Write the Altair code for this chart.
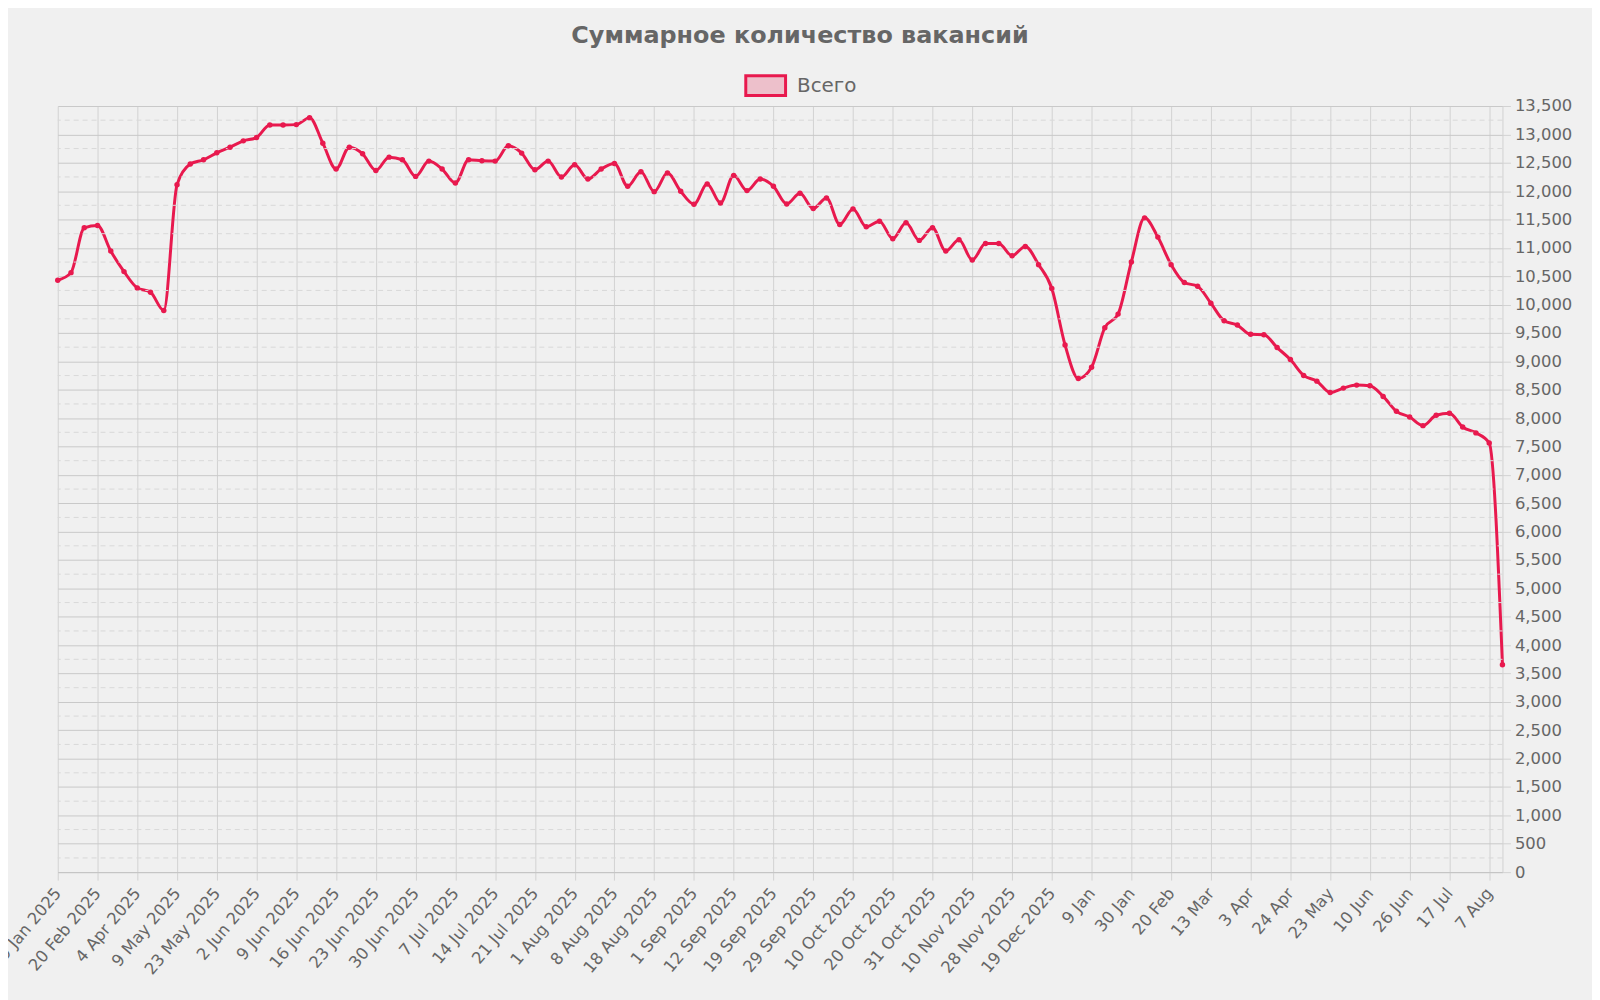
import json
import altair as alt
import pandas as pd

title_text = "Суммарное количество вакансий"
series_name = "Всего"

tick_labels = [
    "9 Jan 2025", "20 Feb 2025", "4 Apr 2025", "9 May 2025", "23 May 2025",
    "2 Jun 2025", "9 Jun 2025", "16 Jun 2025", "23 Jun 2025", "30 Jun 2025",
    "7 Jul 2025", "14 Jul 2025", "21 Jul 2025", "1 Aug 2025", "8 Aug 2025",
    "18 Aug 2025", "1 Sep 2025", "12 Sep 2025", "19 Sep 2025", "29 Sep 2025",
    "10 Oct 2025", "20 Oct 2025", "31 Oct 2025", "10 Nov 2025", "28 Nov 2025",
    "19 Dec 2025", "9 Jan", "30 Jan", "20 Feb", "13 Mar", "3 Apr", "24 Apr",
    "23 May", "10 Jun", "26 Jun", "17 Jul", "7 Aug",
]

values = [
    10430, 10564, 11354, 11395, 10944, 10582, 10295, 10219, 9898, 12114,
    12477, 12553, 12675, 12775, 12886, 12944, 13167, 13167, 13172, 13295,
    12845, 12389, 12775, 12658, 12365, 12599, 12553, 12260, 12529, 12389,
    12143, 12553, 12535, 12529, 12798, 12670, 12377, 12529, 12249, 12465,
    12213, 12389, 12488, 12085, 12342, 11991, 12319, 11997, 11769, 12126,
    11792, 12278, 12009, 12213, 12085, 11775, 11962, 11693, 11880, 11412,
    11687, 11371, 11471, 11161, 11442, 11132, 11354, 10944, 11143, 10787,
    11079, 11079, 10862, 11026, 10705, 10284, 9289, 8699, 8898, 9594,
    9833, 10751, 11529, 11190, 10705, 10389, 10325, 10026, 9716, 9640,
    9477, 9471, 9243, 9032, 8752, 8652, 8453, 8529, 8582, 8570,
    8383, 8120, 8020, 7868, 8050, 8085, 7845, 7740, 7564, 3655,
]

y_major = list(range(0, 13501, 500))
y_minor = list(range(250, 13500, 500))

LINE = "#e8194e"
TEXT = "#666666"

df = pd.DataFrame({"i": list(range(len(values))), "v": values, "s": series_name})
minor_df = pd.DataFrame({"v": y_minor})

n = len(values)
xscale = alt.Scale(domain=[0, n - 1], nice=False, zero=False)
yscale = alt.Scale(domain=[0, 13500], nice=False, zero=True)

label_expr = json.dumps(tick_labels, ensure_ascii=False) + "[round(datum.value / 3)]"

x_axis = alt.Axis(
    values=list(range(0, n, 3)),
    labelExpr=label_expr,
    labelAngle=-50,
    labelAlign="right",
    labelBaseline="middle",
    labelPadding=10,
    title=None,
    grid=True,
    gridColor="#d2d2d2",
    tickSize=8,
    tickColor="#d2d2d2",
    domainColor="#c4c4c4",
    labelOverlap=False,
)
y_axis = alt.Axis(
    orient="right",
    values=y_major,
    tickCount=28,
    format=",d",
    title=None,
    grid=True,
    gridColor="#c9c9c9",
    tickSize=8,
    tickColor="#d2d2d2",
    domain=True,
    domainColor="#d2d2d2",
    labelPadding=4,
    labelOverlap=False,
)

line = alt.Chart(df).mark_line(strokeWidth=3, interpolate="monotone").encode(
    x=alt.X("i:Q", scale=xscale, axis=x_axis),
    y=alt.Y("v:Q", scale=yscale, axis=y_axis),
    color=alt.Color(
        "s:N",
        scale=alt.Scale(domain=[series_name], range=[LINE]),
        legend=alt.Legend(
            title=None,
            orient="none",
            legendX=690,
            legendY=-42,
            symbolType="M-1,-0.5H1V0.5H-1Z",
            symbolSize=1600,
            symbolFillColor="#edc0cb",
            symbolStrokeWidth=3,
            symbolOpacity=1,
            labelFontSize=20,
            labelColor=TEXT,
            labelFont="DejaVu Sans",
            labelOffset=10,
        ),
    ),
)

minor_rules = alt.Chart(minor_df).mark_rule(
    color="#d9d9d9", strokeWidth=1, strokeDash=[5, 4]
).encode(y=alt.Y("v:Q", scale=yscale))

points = alt.Chart(df).mark_circle(size=30, color=LINE, opacity=1).encode(
    x=alt.X("i:Q", scale=xscale),
    y=alt.Y("v:Q", scale=yscale),
)

chart = alt.layer(line, minor_rules, points).properties(
    width=1452,
    height=770,
    autosize=alt.AutoSizeParams(type="none"),
    padding={"left": 50, "top": 96, "right": 90, "bottom": 126},
    background="#f0f0f0",
    title=alt.TitleParams(
        title_text,
        fontSize=24,
        font="DejaVu Sans",
        fontWeight="bold",
        color=TEXT,
        anchor="middle",
        dx=20,
        offset=16,
    ),
).configure_view(stroke=None).configure_axis(
    labelFont="DejaVu Sans", labelColor=TEXT, labelFontSize=16.5
)

chart.save("out.html", embed_options={"renderer": "svg", "actions": False})
